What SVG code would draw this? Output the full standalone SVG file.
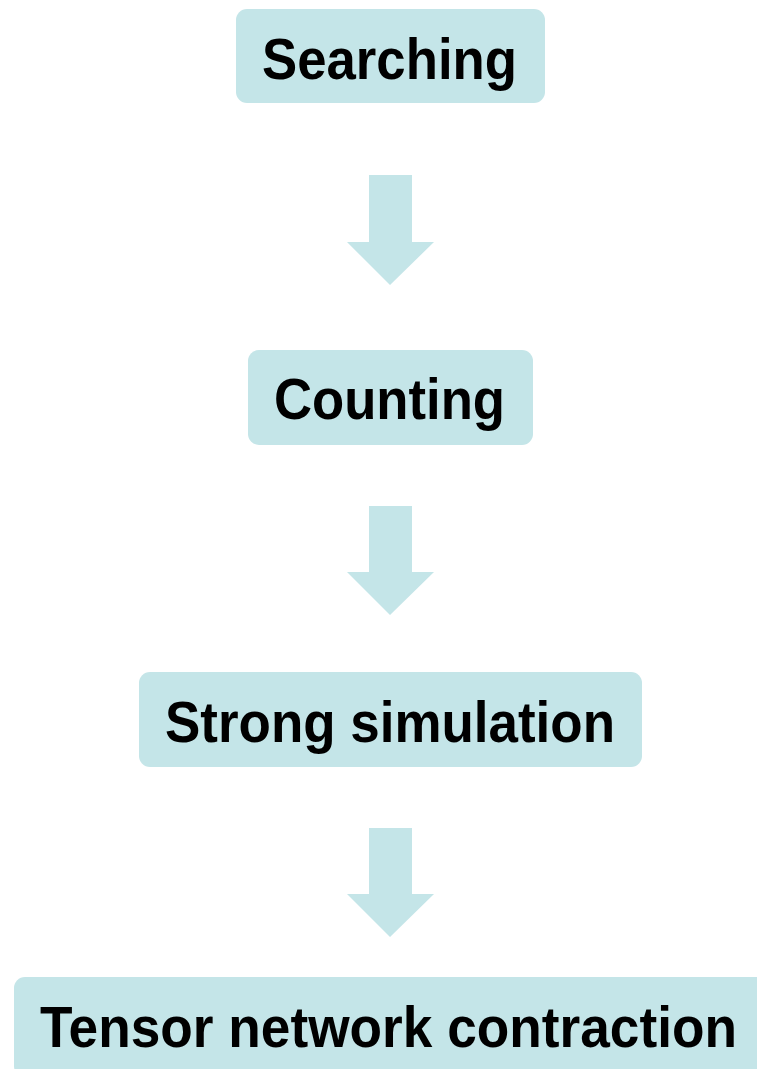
<svg xmlns="http://www.w3.org/2000/svg" width="757" height="1069" viewBox="0 0 757 1069">
<style>
.box{fill:#c4e5e8;}
.arrow{fill:#c4e5e8;}
.lbl{font-family:"Liberation Sans",Arial,sans-serif;font-weight:bold;font-size:57px;fill:#000;text-anchor:middle;}
</style>
<rect width="757" height="1069" fill="#fff"/>
<g id="connectors">
<polygon class="arrow" points="369,175 412,175 412,242 434,242 390,285 347,242 369,242"/>
<polygon class="arrow" points="369,506 412,506 412,572 434,572 390,615 347,572 369,572"/>
<polygon class="arrow" points="369,828 412,828 412,894 434,894 390,937 347,894 369,894"/>
</g>
<g id="node-searching">
<rect class="box" x="236" y="9" width="309" height="94" rx="11"/>
<text class="lbl" x="389.5" y="79" textLength="255" lengthAdjust="spacingAndGlyphs">Searching</text>
</g>
<g id="node-counting">
<rect class="box" x="248" y="350" width="285" height="95" rx="11"/>
<text class="lbl" x="389.5" y="419" textLength="231" lengthAdjust="spacingAndGlyphs">Counting</text>
</g>
<g id="node-strong">
<rect class="box" x="139" y="672" width="503" height="95" rx="11"/>
<text class="lbl" x="390" y="742" textLength="450" lengthAdjust="spacingAndGlyphs">Strong simulation</text>
</g>
<g id="node-tensor">
<rect class="box" x="14" y="977" width="760" height="100" rx="11"/>
<text class="lbl" x="388.5" y="1047" textLength="697" lengthAdjust="spacingAndGlyphs">Tensor network contraction</text>
</g>
</svg>
